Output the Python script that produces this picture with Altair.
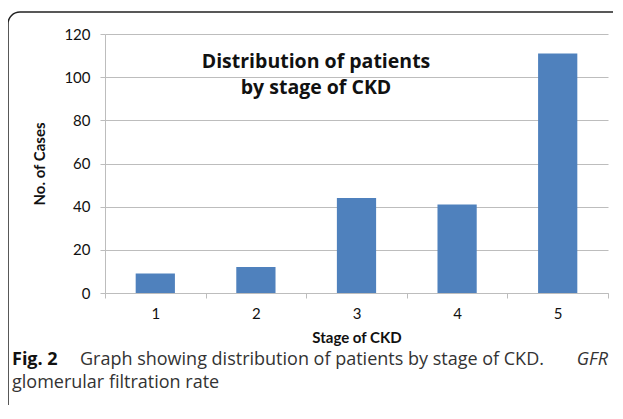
import altair as alt
import pandas as pd

stages = [1, 2, 3, 4, 5]
cases = [9, 12, 44, 41, 111]
y_ticks = [0, 20, 40, 60, 80, 100, 120]
x_bounds = [0.5, 1.5, 2.5, 3.5, 4.5, 5.5]
chart_title = ["Distribution of patients", "by stage of CKD"]
x_title = "Stage of CKD"
y_title = "No. of Cases"
cap_bold = "Fig. 2"
cap_regular = "Graph showing distribution of patients by stage of CKD."
cap_italic = "GFR"
cap_line2 = "glomerular filtration rate"

W, H = 503, 259
FONT = "Lato"
CAPFONT = "Open Sans"

df = pd.DataFrame({"stage": stages, "cases": cases})
one = pd.DataFrame({"k": [0]})

bars = alt.Chart(df).transform_calculate(
    x0="datum.stage - 0.195", x1="datum.stage + 0.195"
).mark_bar(color="#4F81BD").encode(
    x=alt.X("x0:Q",
            scale=alt.Scale(domain=[0.5, 5.5], nice=False, zero=False),
            axis=alt.Axis(values=x_bounds,
                          labelExpr="datum.value < 5 ? format(datum.value + 0.5, 'd') : ''",
                          labelOffset=W / 10, labelFlush=False, labelOverlap=False,
                          labelBound=False, grid=False, title=x_title,
                          tickSize=5, labelPadding=8, titlePadding=9,
                          labelFontSize=15, titleFontSize=15)),
    x2="x1:Q",
    y=alt.Y("cases:Q",
            scale=alt.Scale(domain=[0, 120], nice=False),
            axis=alt.Axis(values=y_ticks, grid=True, title=y_title,
                          tickSize=5, labelPadding=10, titlePadding=16,
                          labelFontSize=15, titleFontSize=15)),
    y2=alt.datum(0),
)

title_text = alt.Chart(one).mark_text(
    text=chart_title, font=CAPFONT, fontWeight="bold", fontSize=19.5,
    lineHeight=26, align="center", baseline="alphabetic", color="#111"
).encode(x=alt.value(211), y=alt.value(34))

border = alt.Chart(one).mark_rect(
    fillOpacity=0, stroke="#222", strokeWidth=1.5, cornerRadius=12
).encode(x=alt.value(-97), x2=alt.value(560), y=alt.value(-22), y2=alt.value(383))

cap1 = alt.Chart(one).mark_text(
    text=cap_bold, font=CAPFONT, fontWeight="bold", fontSize=18,
    align="left", baseline="alphabetic", color="#111"
).encode(x=alt.value(-93), y=alt.value(331))

cap2 = alt.Chart(one).mark_text(
    text=cap_regular, font=CAPFONT, fontSize=18,
    align="left", baseline="alphabetic", color="#333"
).encode(x=alt.value(-25), y=alt.value(331))

cap3 = alt.Chart(one).mark_text(
    text=cap_italic, font=CAPFONT, fontStyle="italic", fontSize=18,
    align="right", baseline="alphabetic", color="#333"
).encode(x=alt.value(503), y=alt.value(331))

cap4 = alt.Chart(one).mark_text(
    text=cap_line2, font=CAPFONT, fontSize=18,
    align="left", baseline="alphabetic", color="#333"
).encode(x=alt.value(-93), y=alt.value(354))

chart = alt.layer(border, bars, title_text, cap1, cap2, cap3, cap4).properties(
    width=W, height=H,
    autosize=alt.AutoSizeParams(type="none"),
    padding={"left": 97, "top": 26, "right": 5, "bottom": 112},
).configure_view(stroke=None).configure_axis(
    labelFont=FONT, titleFont=FONT, labelColor="#111", titleColor="#111",
    domainColor="#BDBDBD", tickColor="#BDBDBD", gridColor="#BDBDBD",
    titleFontWeight="bold"
)

chart.save("out.html", embed_options={"renderer": "svg", "actions": False})
